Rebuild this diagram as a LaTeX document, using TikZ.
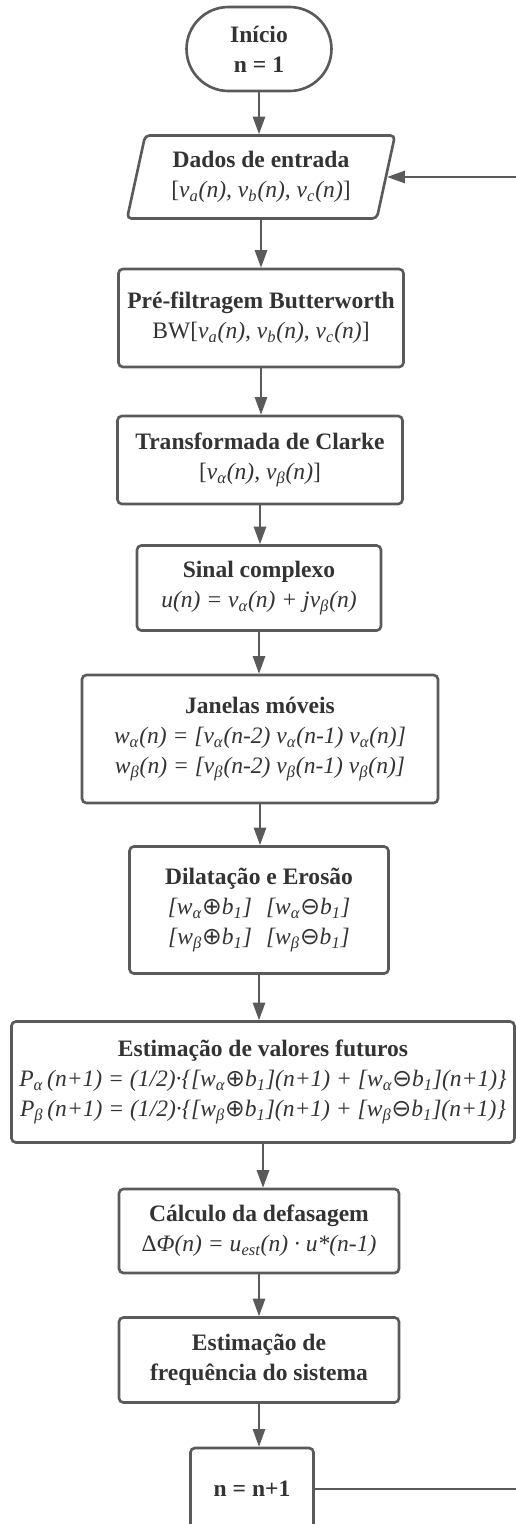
\documentclass[tikz,border=0pt]{standalone}
\usepackage{fontspec}
\setmainfont{Liberation Serif}
\newfontfamily\opfont{DejaVu Sans}
\usepackage{tikz}
\usetikzlibrary{positioning,shapes.geometric,shapes.misc,arrows.meta}
\definecolor{linegray}{HTML}{5A5A5A}
\definecolor{textgray}{HTML}{333333}
\newcommand{\dn}[1]{\textsubscript{#1}}
\newcommand{\dil}{{\upshape\opfont ⊕}}
\newcommand{\ero}{{\upshape\opfont ⊖}}
\tikzset{
        >={Triangle[length=10pt,width=7pt]}, % filled arrow heads
        every node/.style={text=textgray, font=\fontsize{13.4}{17.1}\selectfont, align=center, inner sep=2pt},
        wh/.style 2 args={minimum width=#1*0.02cm, minimum height=#2*0.02cm}, % sizes in pixels
        box/.style={draw=linegray, line width=1.5pt, rounded corners=2.5pt, fill=white},
        term/.style={draw=linegray, line width=1.5pt, rounded rectangle, fill=white},
        io/.style={draw=linegray, line width=1.5pt, trapezium, trapezium left angle=76, trapezium right angle=104,
                   trapezium stretches=true, rounded corners=2.5pt, fill=white},
        flow/.style={->, draw=linegray, line width=1.1pt},
}

\begin{document}
\begin{tikzpicture}[x=0.02cm,y=-0.02cm]
\useasboundingbox (0,0) rectangle (516,1524);

\node[term,wh={152}{84}] (inicio) at (259,49) {\textbf{Início}\\\textbf{n = 1}};
\node[io,wh={268}{83}] (dados) at (261,177) {\textbf{Dados de entrada}\\{}[\textit{v\dn{a}(n), v\dn{b}(n), v\dn{c}(n)}]};
\node[box,wh={285}{98}] (butter) at (261,318) {\textbf{Pré-filtragem Butterworth}\\BW[\textit{v\dn{a}(n), v\dn{b}(n), v\dn{c}(n)}]};
\node[box,wh={285}{88}] (clarke) at (260,460) {\textbf{Transformada de Clarke}\\{}[\textit{v\dn{α}(n), v\dn{β}(n)}]};
\node[box,wh={244}{85}] (sinal) at (259,588) {\textbf{Sinal complexo}\\\textit{u(n) = v\dn{α}(n) + jv\dn{β}(n)}};
\node[box,wh={356}{128}] (janelas) at (260,739) {\textbf{Janelas móveis}\\
  \textit{w\dn{α}(n) = [v\dn{α}(n-2) v\dn{α}(n-1) v\dn{α}(n)]}\\
  \textit{w\dn{β}(n) = [v\dn{β}(n-2) v\dn{β}(n-1) v\dn{β}(n)]}};
\node[box,wh={259}{127}] (dilero) at (259,910) {\textbf{Dilatação e Erosão}\\
  \textit{[w\dn{α}\dil b\dn{1}]\hspace{0.6em}[w\dn{α}\ero b\dn{1}]}\\
  \textit{[w\dn{β}\dil b\dn{1}]\hspace{0.6em}[w\dn{β}\ero b\dn{1}]}};
\node[box,wh={503}{121}] (futuros) at (263,1082) {\textbf{Estimação de valores futuros}\\
  \textit{P\dn{α}\,(n+1) = (1/2)·\{[w\dn{α}\dil b\dn{1}](n+1) + [w\dn{α}\ero b\dn{1}](n+1)\}}\\
  \textit{P\dn{β}\,(n+1) = (1/2)·\{[w\dn{β}\dil b\dn{1}](n+1) + [w\dn{β}\ero b\dn{1}](n+1)\}}};
\node[box,wh={280}{84}] (defas) at (259,1231) {\textbf{Cálculo da defasagem}\\Δ\textit{Φ(n) = u\dn{est}(n) · u*(n-1)}};
\node[box,wh={280}{85}] (freq) at (259,1360) {\textbf{Estimação de}\\\textbf{frequência do sistema}};
\node[box,wh={123}{82}] (incr) at (252,1489) {\textbf{n = n+1}};

% main flow, straight down from each box
\foreach \a/\b in {inicio/dados,dados/butter,butter/clarke,clarke/sinal,sinal/janelas,
                   janelas/dilero,dilero/futuros,futuros/defas,defas/freq,freq/incr}
  \draw[flow] (\a.south) -- (\a.south |- \b.north);

% loop back to the input
\coordinate (back) at (524,1489);
\draw[flow,line width=1pt] (incr) -- (back) |- (dados);
\end{tikzpicture}
\end{document}
